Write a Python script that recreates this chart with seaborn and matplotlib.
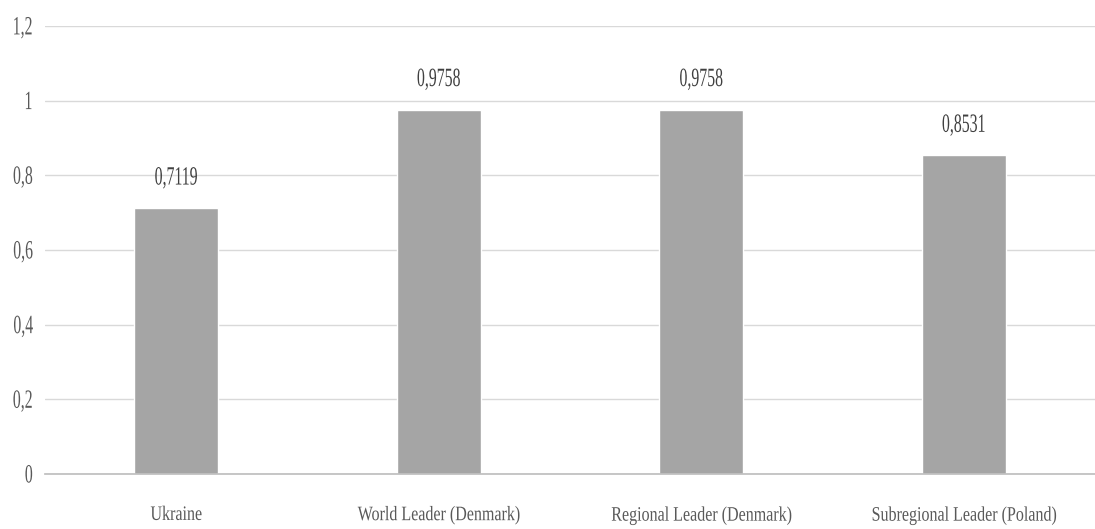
import matplotlib
matplotlib.use("Agg")
import matplotlib.pyplot as plt
from matplotlib.patheffects import AbstractPathEffect
from matplotlib.transforms import Affine2D
import seaborn as sns
import pandas as pd

# dados do gráfico
categorias = ["Ukraine", "World Leader (Denmark)", "Regional Leader (Denmark)", "Subregional Leader (Poland)"]
valores = [0.7119, 0.9758, 0.9758, 0.8531]
rotulos = ["0,7119", "0,9758", "0,9758", "0,8531"]
yticks = [0, 0.2, 0.4, 0.6, 0.8, 1.0, 1.2]
ytick_labels = ["0", "0,2", "0,4", "0,6", "0,8", "1", "1,2"]


class Estreitar(AbstractPathEffect):
    """Comprime o texto na horizontal (fonte 'condensada')."""

    def __init__(self, sx=0.6, ancora="center"):
        super().__init__()
        self.sx = sx
        self.ancora = ancora

    def draw_path(self, renderer, gc, tpath, affine, rgbFace=None):
        ext = tpath.get_extents()
        if self.ancora == "right":
            cx = ext.x1
        elif self.ancora == "left":
            cx = ext.x0
        else:
            cx = (ext.x0 + ext.x1) / 2
        t = Affine2D().translate(-cx, 0).scale(self.sx, 1).translate(cx, 0) + affine
        renderer.draw_path(gc, tpath, t, rgbFace)


sns.set_theme(style="white")
plt.rcParams["font.family"] = ["Liberation Serif", "DejaVu Serif"]

df = pd.DataFrame({"categoria": categorias, "valor": valores})

fig = plt.figure(figsize=(10.95, 5.29), dpi=100)
ax = fig.add_axes([0.041, 0.104, 0.959, 0.847])

sns.barplot(data=df, x="categoria", y="valor", color="#a5a5a5", saturation=1,
            width=0.32, ax=ax)

ax.set_ylim(0, 1.2)
ax.set_yticks(yticks)
ax.set_yticklabels(ytick_labels)
ax.yaxis.grid(True, color="#d9d9d9", linewidth=1)
ax.set_axisbelow(True)
for s in ["top", "right", "left"]:
    ax.spines[s].set_visible(False)
ax.spines["bottom"].set_color("#bfbfbf")
ax.tick_params(axis="y", length=0, pad=8.5, labelsize=19, labelcolor="#595959")
ax.tick_params(axis="x", length=0, pad=23, labelsize=14.8, labelcolor="#595959")
ax.set_xlabel("")
ax.set_ylabel("")

for lbl in ax.get_yticklabels():
    lbl.set_path_effects([Estreitar(0.6, "right")])
for lbl in ax.get_xticklabels():
    lbl.set_path_effects([Estreitar(0.78, "center")])

for i, (v, r) in enumerate(zip(valores, rotulos)):
    ax.annotate(r, (i, v), xytext=(0, 17), textcoords="offset points",
                ha="center", va="baseline", fontsize=19, color="#404040",
                path_effects=[Estreitar(0.6, "center")])

fig.savefig("out.png", dpi=100)
